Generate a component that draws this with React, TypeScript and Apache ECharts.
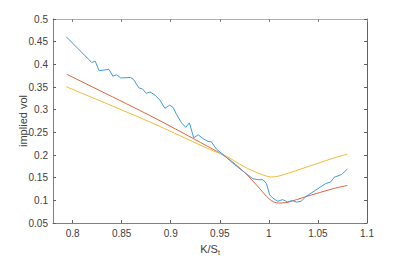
import React, { useEffect, useRef } from "react";
import * as echarts from "echarts";

const xTicks = [0.8, 0.85, 0.9, 0.95, 1, 1.05, 1.1];

const marketX = [0.7934, 0.8195, 0.823, 0.827, 0.837, 0.841, 0.845, 0.849, 0.859, 0.862, 0.8676, 0.871, 0.875, 0.879, 0.884, 0.889, 0.894, 0.899, 0.9024, 0.906, 0.911, 0.9153, 0.919, 0.9234, 0.928, 0.933, 0.938, 0.9414, 0.9465, 0.9516, 0.956, 0.965, 0.975, 0.9837, 0.989, 0.994, 0.9975, 1.0008, 1.004, 1.009, 1.014, 1.019, 1.024, 1.028, 1.033, 1.038, 1.043, 1.048, 1.053, 1.058, 1.063, 1.0667, 1.0739, 1.08];
const marketY = [0.461, 0.404, 0.407, 0.386, 0.389, 0.374, 0.377, 0.37, 0.371, 0.367, 0.348, 0.346, 0.336, 0.339, 0.332, 0.321, 0.303, 0.31, 0.305, 0.289, 0.271, 0.261, 0.271, 0.238, 0.2446, 0.236, 0.23, 0.229, 0.213, 0.204, 0.196, 0.179, 0.162, 0.1476, 0.1455, 0.1455, 0.137, 0.112, 0.105, 0.098, 0.1015, 0.0967, 0.0995, 0.096, 0.098, 0.109, 0.1158, 0.123, 0.13, 0.137, 0.1406, 0.151, 0.1567, 0.169];

const model1X = [0.794, 0.8788, 0.93, 0.956, 0.975, 0.989, 0.9975, 1.0025, 1.0075, 1.0126, 1.021, 1.036, 1.0667, 1.08];
const model1Y = [0.378, 0.287, 0.228, 0.196, 0.162, 0.13, 0.109, 0.0995, 0.0946, 0.094, 0.0967, 0.107, 0.1264, 0.1328];

const model2X = [0.7934, 0.8788, 0.94, 0.956, 0.975, 0.989, 0.9975, 1.0025, 1.009, 1.02, 1.04, 1.0667, 1.08];
const model2Y = [0.3507, 0.2728, 0.212, 0.198, 0.174, 0.16, 0.1535, 0.1515, 0.153, 0.16, 0.1745, 0.1937, 0.202];

const zip = (xs: number[], ys: number[]) => xs.map((x, i) => [x, ys[i]]);
const fmt = (v: number) => String(+Number(v).toFixed(2));

const FONT = "Liberation Sans";
const TXT = "#404040";

export default function App() {
  const ref = useRef<HTMLDivElement>(null);
  useEffect(() => {
    if (!ref.current) return;
    const chart = echarts.init(ref.current, undefined, { renderer: "svg" });
    const axisLineL = { show: true, lineStyle: { color: "#808080", width: 1 } };
    chart.setOption({
      animation: false,
      backgroundColor: "#ffffff",
      grid: { left: 53, right: 39, top: 19, bottom: 30, containLabel: false },
      xAxis: [
        {
          type: "value",
          min: 0.78,
          max: 1.1,
          position: "bottom",
          axisLine: axisLineL,
          axisTick: { show: true, inside: true, length: 3, customValues: xTicks, lineStyle: { color: "#606060" } },
          axisLabel: { customValues: xTicks, formatter: fmt, color: TXT, fontFamily: FONT, fontSize: 10, margin: 5 },
          splitLine: { show: false },
          name: "K/S{sub|t}",
          nameLocation: "middle",
          nameGap: 18,
          nameMoveOverlap: false,
          nameTextStyle: {
            color: TXT,
            fontFamily: FONT,
            fontSize: 11,
            rich: { sub: { fontSize: 7, verticalAlign: "bottom", padding: [8, 0, 0, 0], color: TXT, fontFamily: FONT } },
          },
        },
        {
          type: "value",
          min: 0.78,
          max: 1.1,
          position: "top",
          axisLine: { show: true, lineStyle: { color: "#b0b0b0", width: 1 } },
          axisTick: { show: true, inside: true, length: 3, customValues: xTicks, lineStyle: { color: "#808080" } },
          axisLabel: { show: false },
          splitLine: { show: false },
        },
      ],
      yAxis: [
        {
          type: "value",
          min: 0.05,
          max: 0.5,
          interval: 0.05,
          position: "left",
          axisLine: axisLineL,
          axisTick: { show: true, inside: true, length: 3, lineStyle: { color: "#606060" } },
          axisLabel: { formatter: fmt, color: TXT, fontFamily: FONT, fontSize: 10, margin: 5 },
          splitLine: { show: false },
          name: "implied vol",
          nameLocation: "middle",
          nameGap: 25,
          nameRotate: 90,
          nameMoveOverlap: false,
          nameTextStyle: { color: TXT, fontFamily: FONT, fontSize: 11 },
        },
        {
          type: "value",
          min: 0.05,
          max: 0.5,
          interval: 0.05,
          position: "right",
          axisLine: { show: true, lineStyle: { color: "#606060", width: 1 } },
          axisTick: { show: true, inside: true, length: 3, lineStyle: { color: "#606060" } },
          axisLabel: { show: false },
          splitLine: { show: false },
        },
      ],
      series: [
        {
          type: "line",
          data: zip(marketX, marketY),
          showSymbol: false,
          lineStyle: { color: "#3d9ee0", width: 1 },
          z: 3,
        },
        {
          type: "line",
          data: zip(model1X, model1Y),
          showSymbol: false,
          smooth: 0.3,
          lineStyle: { color: "#e0643a", width: 1 },
          z: 2,
        },
        {
          type: "line",
          data: zip(model2X, model2Y),
          showSymbol: false,
          smooth: 0.3,
          lineStyle: { color: "#f0bb3c", width: 1 },
          z: 2,
        },
      ],
    });
    return () => chart.dispose();
  }, []);
  return <div ref={ref} style={{ position: "fixed", left: 0, top: 0, width: 406, height: 261 }} />;
}
